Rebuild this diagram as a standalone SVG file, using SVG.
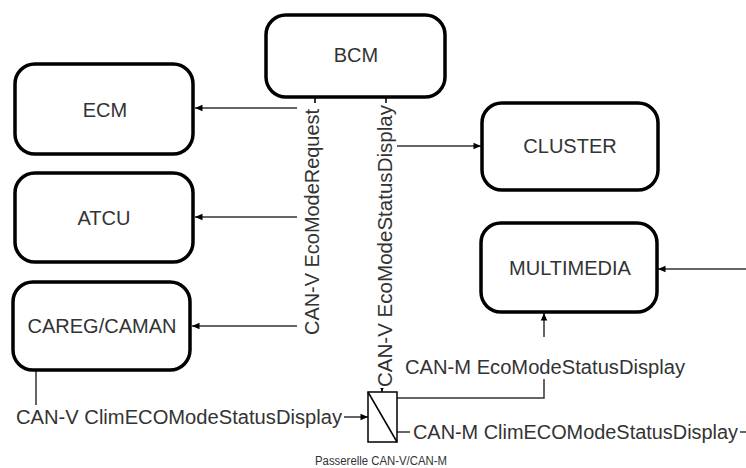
<svg xmlns="http://www.w3.org/2000/svg" width="746" height="468" viewBox="0 0 746 468">
  <style>
    .node rect { fill: #ffffff; stroke: #000000; stroke-width: 3.5; }
    .node text { font-family: "Liberation Sans", Arial, sans-serif; font-size: 20px; fill: #333333; text-anchor: middle; }
    .edge { fill: none; stroke: #333333; stroke-width: 1.5; }
    .arrow { marker-end: url(#block); }
    .lbl-bg { fill: #ffffff; }
    .lbl { font-family: "Liberation Sans", Arial, sans-serif; font-size: 20px; fill: #333333; }
    .small { font-family: "Liberation Sans", Arial, sans-serif; font-size: 12px; fill: #333333; text-anchor: middle; }
    .gw { fill: #ffffff; stroke: #000000; stroke-width: 1.5; }
  </style>
  <defs>
    <marker id="block" markerUnits="userSpaceOnUse" markerWidth="10" markerHeight="10" viewBox="0 0 10 10" refX="9" refY="5" orient="auto">
      <path d="M1.5,1.8 L9,5 L1.5,8.2 Z" fill="#000000"/>
    </marker>
  </defs>

  <rect width="746" height="468" fill="#ffffff"/>

  <!-- connectors -->
  <g id="connectors">
    <path class="edge arrow" d="M315,97 V108 H195"/>
    <path class="edge arrow" d="M315,97 V217 H195"/>
    <path class="edge arrow" d="M315,97 V326 H192"/>
    <path class="edge arrow" d="M386,97 V146 H481"/>
    <path class="edge arrow" d="M386,97 V380 H382 V392"/>
    <path class="edge arrow" d="M397,398 H544 V313"/>
    <path class="edge arrow" d="M746,269 H658"/>
    <path class="edge arrow" d="M36,370 V417 H368"/>
    <path class="edge" d="M397,432 H746"/>

    <!-- connector labels -->
    <rect class="lbl-bg" x="297" y="103" width="29" height="236"/>
    <text class="lbl" transform="translate(319,222) rotate(-90)" text-anchor="middle" textLength="226" lengthAdjust="spacingAndGlyphs">CAN-V EcoModeRequest</text>

    <rect class="lbl-bg" x="374" y="103" width="23" height="285"/>
    <text class="lbl" transform="translate(392,246) rotate(-90)" text-anchor="middle" textLength="282" lengthAdjust="spacingAndGlyphs">CAN-V EcoModeStatusDisplay</text>

    <rect class="lbl-bg" x="14" y="405" width="330" height="25"/>
    <text class="lbl" x="16" y="424" textLength="326" lengthAdjust="spacingAndGlyphs">CAN-V ClimECOModeStatusDisplay</text>

    <rect class="lbl-bg" x="403" y="337" width="284" height="42"/>
    <text class="lbl" x="405" y="374" textLength="280" lengthAdjust="spacingAndGlyphs">CAN-M EcoModeStatusDisplay</text>

    <rect class="lbl-bg" x="410" y="420" width="330" height="25"/>
    <text class="lbl" x="413" y="439" textLength="325" lengthAdjust="spacingAndGlyphs">CAN-M ClimECOModeStatusDisplay</text>
  </g>

  <!-- nodes -->
  <g id="bcm" class="node">
    <rect x="266" y="15" width="179" height="82" rx="20"/>
    <text x="356" y="62">BCM</text>
  </g>
  <g id="ecm" class="node">
    <rect x="15" y="64" width="178" height="90" rx="20"/>
    <text x="105" y="117">ECM</text>
  </g>
  <g id="atcu" class="node">
    <rect x="15" y="173" width="178" height="89" rx="20"/>
    <text x="104" y="225">ATCU</text>
  </g>
  <g id="careg-caman" class="node">
    <rect x="13" y="282" width="177" height="88" rx="20"/>
    <text x="102" y="333">CAREG/CAMAN</text>
  </g>
  <g id="cluster" class="node">
    <rect x="482" y="103" width="176" height="87" rx="20"/>
    <text x="570" y="153">CLUSTER</text>
  </g>
  <g id="multimedia" class="node">
    <rect x="481" y="223" width="176" height="89" rx="20"/>
    <text x="570" y="275">MULTIMEDIA</text>
  </g>
  <g id="passerelle">
    <rect class="gw" x="368" y="392" width="29" height="50"/>
    <line class="gw" x1="368" y1="392" x2="397" y2="442"/>
    <text class="small" x="381" y="465" textLength="132" lengthAdjust="spacingAndGlyphs">Passerelle CAN-V/CAN-M</text>
  </g>
</svg>
